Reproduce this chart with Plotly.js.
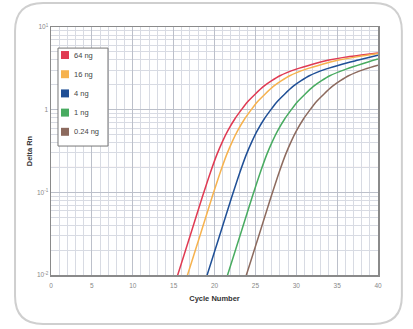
<!DOCTYPE html>
<html>
<head>
<meta charset="utf-8">
<script src="https://cdn.plot.ly/plotly-3.0.1.min.js"></script>
<style>
  html, body { margin: 0; padding: 0; background: #ffffff; }
  #chart { width: 413px; height: 329px; }
</style>
</head>
<body>
<div id="chart"></div>
<script>
// ---- Data ----
const seriesNames = ["64 ng", "16 ng", "4 ng", "1 ng", "0.24 ng"];
const seriesColors = ["#e03a52", "#f6b24e", "#1f4f96", "#48ab60", "#8c6a5e"];

const cycles64 = [14, 15.5, 17, 18.5, 19.5, 20.3, 21, 21.6, 22.5, 23.3, 24, 25, 26, 27, 28, 30, 32, 34, 36, 38, 40];
const rn64     = [0.00355, 0.01, 0.0295, 0.087, 0.174, 0.288, 0.417, 0.55, 0.776, 1.0, 1.23, 1.55, 1.91, 2.24, 2.57, 3.09, 3.55, 3.98, 4.32, 4.57, 4.84];

const cycles16 = [15.2, 16.7, 18.2, 19.7, 20.7, 21.5, 22.2, 22.8, 23.7, 24.5, 25.2, 26.2, 27.2, 28.2, 29.2, 31.2, 33.2, 35.2, 37.2, 40];
const rn16     = [0.00355, 0.01, 0.0295, 0.087, 0.174, 0.288, 0.417, 0.55, 0.776, 1.0, 1.23, 1.55, 1.91, 2.24, 2.57, 3.09, 3.55, 3.98, 4.32, 4.78];

const cycles4  = [17.6, 19.1, 20.6, 22.1, 23.1, 23.9, 24.6, 25.2, 26.1, 26.9, 27.6, 28.6, 29.6, 30.6, 31.6, 33.6, 35.6, 37.6, 40];
const rn4      = [0.00355, 0.01, 0.0295, 0.087, 0.174, 0.288, 0.417, 0.55, 0.776, 1.0, 1.23, 1.55, 1.91, 2.24, 2.57, 3.09, 3.55, 3.98, 4.55];

const cycles1  = [20.1, 21.6, 23.1, 24.6, 25.6, 26.4, 27.1, 27.7, 28.6, 29.4, 30.1, 31.1, 32.1, 33.1, 34.1, 36.1, 38.1, 40];
const rn1      = [0.00355, 0.01, 0.0295, 0.087, 0.174, 0.288, 0.417, 0.55, 0.776, 1.0, 1.23, 1.55, 1.91, 2.24, 2.57, 3.09, 3.6, 4.1];

const cycles024 = [22.4, 23.9, 25.4, 26.9, 27.9, 28.7, 29.4, 30.0, 30.9, 31.7, 32.4, 33.4, 34.4, 35.4, 36.4, 38.4, 40];
const rn024     = [0.00355, 0.01, 0.0295, 0.087, 0.174, 0.288, 0.417, 0.55, 0.776, 1.0, 1.23, 1.55, 1.91, 2.24, 2.57, 3.09, 3.45];

const threshold = 0.2;

const xTickVals = [0, 5, 10, 15, 20, 25, 30, 35, 40];
const yTickVals = [0.01, 0.1, 1, 10];
const yTickText = ["10<sup>-2</sup>", "10<sup>-1</sup>", "1", "10<sup>1</sup>"];

const xs = [cycles64, cycles16, cycles4, cycles1, cycles024];
const ys = [rn64, rn16, rn4, rn1, rn024];

// ---- Traces ----
const traces = [];
for (let i = 0; i < seriesNames.length; i++) {
  traces.push({
    x: xs[i], y: ys[i],
    type: "scatter", mode: "lines",
    line: { color: seriesColors[i], width: 1.5, shape: "spline", smoothing: 0.7 },
    name: seriesNames[i],
    showlegend: false,
    hoverinfo: "skip"
  });
}

// ---- Legend (boxed, coloured squares, drawn inside the plot) ----
const legX0 = 0.0214, legX1 = 0.1743, legY0 = 0.520, legY1 = 0.915;
const legTop = 0.887, legStep = 0.0774;
const sqX0 = 0.0306, sqX1 = 0.055, sqHalf = 0.0161, txtX = 0.0642;

const shapes = [
  {
    type: "line", xref: "paper", yref: "y",
    x0: 0, x1: 1, y0: threshold, y1: threshold,
    line: { color: "#c98a93", width: 1 }, layer: "below"
  },
  {
    type: "path", xref: "paper", yref: "paper",
    path: "M -0.024,1.097 L 0.987,1.097 Q 1.073,1.097 1.073,0.984 L 1.073,-0.085 Q 1.073,-0.198 0.987,-0.198 L -0.024,-0.198 Q -0.110,-0.198 -0.110,-0.085 L -0.110,0.984 Q -0.110,1.097 -0.024,1.097 Z",
    line: { color: "#cfcfcf", width: 2 }, fillcolor: "rgba(0,0,0,0)", layer: "below"
  },
  {
    type: "rect", xref: "paper", yref: "paper",
    x0: legX0, x1: legX1, y0: legY0, y1: legY1,
    line: { color: "#777", width: 1 }, fillcolor: "#ffffff", layer: "above"
  }
];
const annotations = [];
seriesNames.forEach((nm, i) => {
  const yc = legTop - i * legStep;
  shapes.push({
    type: "rect", xref: "paper", yref: "paper",
    x0: sqX0, x1: sqX1, y0: yc - sqHalf, y1: yc + sqHalf,
    line: { width: 0 }, fillcolor: seriesColors[i], layer: "above"
  });
  annotations.push({
    xref: "paper", yref: "paper", x: txtX, y: yc,
    xanchor: "left", yanchor: "middle", showarrow: false,
    text: nm, font: { size: 7.5, color: "#444" }
  });
});

const gridMinor = "#d8dbe3";
const gridMajor = "#bcc0ca";

const layout = {
  width: 413, height: 329,
  margin: { l: 51, r: 35, t: 27, b: 54 },
  paper_bgcolor: "#ffffff",
  plot_bgcolor: "#ffffff",
  font: { family: "Liberation Sans, Arial, sans-serif", color: "#555" },
  showlegend: false,
  xaxis: {
    type: "linear", range: [0, 40],
    tickvals: xTickVals, ticktext: xTickVals.map(String),
    tickfont: { size: 6.5, color: "#888" },
    ticks: "", ticklabelstandoff: 4,
    showgrid: true, gridcolor: gridMajor, gridwidth: 1,
    minor: { dtick: 1, showgrid: true, gridcolor: gridMinor, gridwidth: 1 },
    showline: true, linecolor: "#8a8a8a", linewidth: 1.5, mirror: true,
    zeroline: false,
    title: { text: "<b>Cycle Number</b>", font: { size: 7.5, color: "#333" }, standoff: 7 }
  },
  yaxis: {
    type: "log", range: [-2, 1],
    tickvals: yTickVals, ticktext: yTickText,
    tickfont: { size: 6.5, color: "#888" },
    ticks: "",
    showgrid: true, gridcolor: gridMajor, gridwidth: 1,
    minor: { dtick: "D1", showgrid: true, gridcolor: gridMinor, gridwidth: 1 },
    showline: true, linecolor: "#8a8a8a", linewidth: 1.5, mirror: true,
    zeroline: false,
    title: { text: "<b>Delta Rn</b>", font: { size: 7.5, color: "#333" }, standoff: 3 }
  },
  shapes: shapes,
  annotations: annotations
};

Plotly.newPlot("chart", traces, layout, { displayModeBar: false, staticPlot: true });
</script>
</body>
</html>
